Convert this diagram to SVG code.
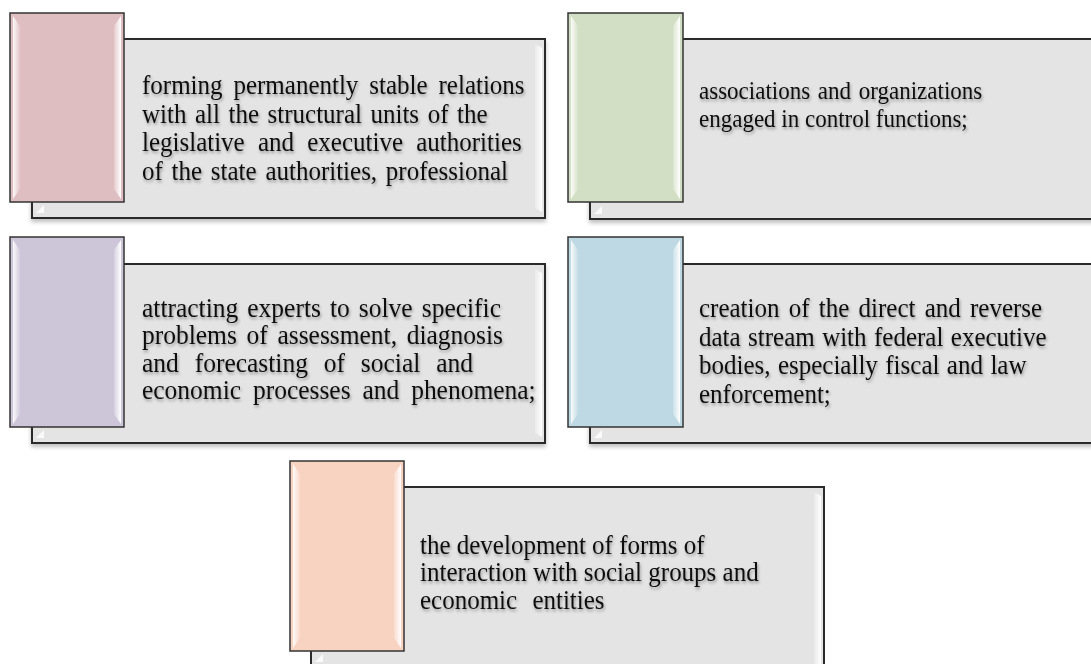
<svg xmlns="http://www.w3.org/2000/svg" width="1091" height="664" viewBox="0 0 1091 664">
<defs>
<filter id="ts" x="-5%" y="-20%" width="110%" height="150%">
<feDropShadow dx="1" dy="2" stdDeviation="1.4" flood-color="#000" flood-opacity="0.35"/>
</filter>
<filter id="bs" x="-5%" y="-5%" width="110%" height="115%">
<feDropShadow dx="0" dy="3" stdDeviation="2" flood-color="#000" flood-opacity="0.25"/>
</filter>
<linearGradient id="hlL" x1="0" y1="0" x2="1" y2="0">
<stop offset="0" stop-color="#fff" stop-opacity="0.9"/>
<stop offset="1" stop-color="#fff" stop-opacity="0.1"/>
</linearGradient>
<linearGradient id="hlR" x1="0" y1="0" x2="1" y2="0">
<stop offset="0" stop-color="#fff" stop-opacity="0.2"/>
<stop offset="1" stop-color="#fff" stop-opacity="1"/>
</linearGradient>
</defs>
<style>
.box{fill:#e4e4e4;stroke:#2b2b2b;stroke-width:2}
.tab{stroke:#333;stroke-width:1.5}
.txt{font-family:"Liberation Serif","Times New Roman",serif;font-size:25px;fill:#111;filter:url(#ts)}
</style>
<rect width="1091" height="664" fill="#fff"/>
<g id="connectors"></g>

<g id="node1">
<rect class="box" x="32" y="39" width="513" height="179" filter="url(#bs)"/>
<path d="M535 44 L542 48 L542 212 L535 208 Z" fill="url(#hlR)"/>
<path d="M36 213 L44 205 L44 213 Z" fill="#fff" opacity="0.8"/>
<rect class="tab" x="10" y="13" width="114" height="189" fill="#dfbec2"/>
<path d="M13 16 L20 26 L20 189 L13 199 Z" fill="url(#hlL)"/>
<path d="M114 26 L121 16 L121 199 L114 189 Z" fill="url(#hlR)"/>
<text class="txt" transform="translate(142,94) scale(1,1.06)"><tspan x="0" y="0" word-spacing="4.7">forming permanently stable relations</tspan><tspan x="0" y="27.07" word-spacing="2.3">with all the structural units of the</tspan><tspan x="0" y="54.15" word-spacing="7">legislative and executive authorities</tspan><tspan x="0" y="81.2" word-spacing="2.5">of the state authorities, professional</tspan></text>
</g>

<g id="node2">
<rect class="box" x="590" y="39" width="510" height="180" filter="url(#bs)"/>
<path d="M594 214 L602 206 L602 214 Z" fill="#fff" opacity="0.8"/>
<rect class="tab" x="568" y="13" width="115" height="189" fill="#d3dfc4"/>
<path d="M571 16 L578 26 L578 189 L571 199 Z" fill="url(#hlL)"/>
<path d="M673 26 L680 16 L680 199 L673 189 Z" fill="url(#hlR)"/>
<text class="txt" style="font-size:23px" transform="translate(699,99) scale(1,1.06)"><tspan x="0" y="0" word-spacing="2">associations and organizations</tspan><tspan x="0" y="26.4">engaged in control functions;</tspan></text>
</g>

<g id="node3">
<rect class="box" x="32" y="264" width="513" height="179" filter="url(#bs)"/>
<path d="M535 269 L542 273 L542 437 L535 433 Z" fill="url(#hlR)"/>
<path d="M36 438 L44 430 L44 438 Z" fill="#fff" opacity="0.8"/>
<rect class="tab" x="10" y="237" width="114" height="190" fill="#cdc6d9"/>
<path d="M13 240 L20 250 L20 414 L13 424 Z" fill="url(#hlL)"/>
<path d="M114 250 L121 240 L121 424 L114 414 Z" fill="url(#hlR)"/>
<text class="txt" style="font-size:25.5px" transform="translate(142,317) scale(1,1.04)"><tspan x="0" y="0" word-spacing="2.7">attracting experts to solve specific</tspan><tspan x="0" y="26.25" word-spacing="3.3">problems of assessment, diagnosis</tspan><tspan x="0" y="52.5" word-spacing="9.5">and forecasting of social and</tspan><tspan x="0" y="78.75" word-spacing="5.5">economic processes and phenomena;</tspan></text>
</g>

<g id="node4">
<rect class="box" x="590" y="264" width="510" height="179" filter="url(#bs)"/>
<path d="M594 438 L602 430 L602 438 Z" fill="#fff" opacity="0.8"/>
<rect class="tab" x="568" y="237" width="115" height="190" fill="#bed9e3"/>
<path d="M571 240 L578 250 L578 414 L571 424 Z" fill="url(#hlL)"/>
<path d="M673 250 L680 240 L680 424 L673 414 Z" fill="url(#hlR)"/>
<text class="txt" transform="translate(699,317) scale(1,1.06)"><tspan x="0" y="0" word-spacing="3">creation of the direct and reverse</tspan><tspan x="0" y="27.07" word-spacing="1.2">data stream with federal executive</tspan><tspan x="0" y="54.15" word-spacing="1.2">bodies, especially fiscal and law</tspan><tspan x="0" y="81.2">enforcement;</tspan></text>
</g>

<g id="node5">
<rect class="box" x="311" y="487" width="513" height="200"/>
<path d="M814 492 L821 496 L821 664 L814 664 Z" fill="url(#hlR)"/>
<path d="M315 662 L323 654 L323 662 Z" fill="#fff" opacity="0.8"/>
<rect class="tab" x="290" y="461" width="114" height="190" fill="#f8d3c2"/>
<path d="M293 464 L300 474 L300 638 L293 648 Z" fill="url(#hlL)"/>
<path d="M394 474 L401 464 L401 648 L394 638 Z" fill="url(#hlR)"/>
<text class="txt" transform="translate(420,554) scale(1,1.06)"><tspan x="0" y="0">the development of forms of</tspan><tspan x="0" y="25.94">interaction with social groups and</tspan><tspan x="0" y="51.89" word-spacing="9">economic entities</tspan></text>
</g>
</svg>
